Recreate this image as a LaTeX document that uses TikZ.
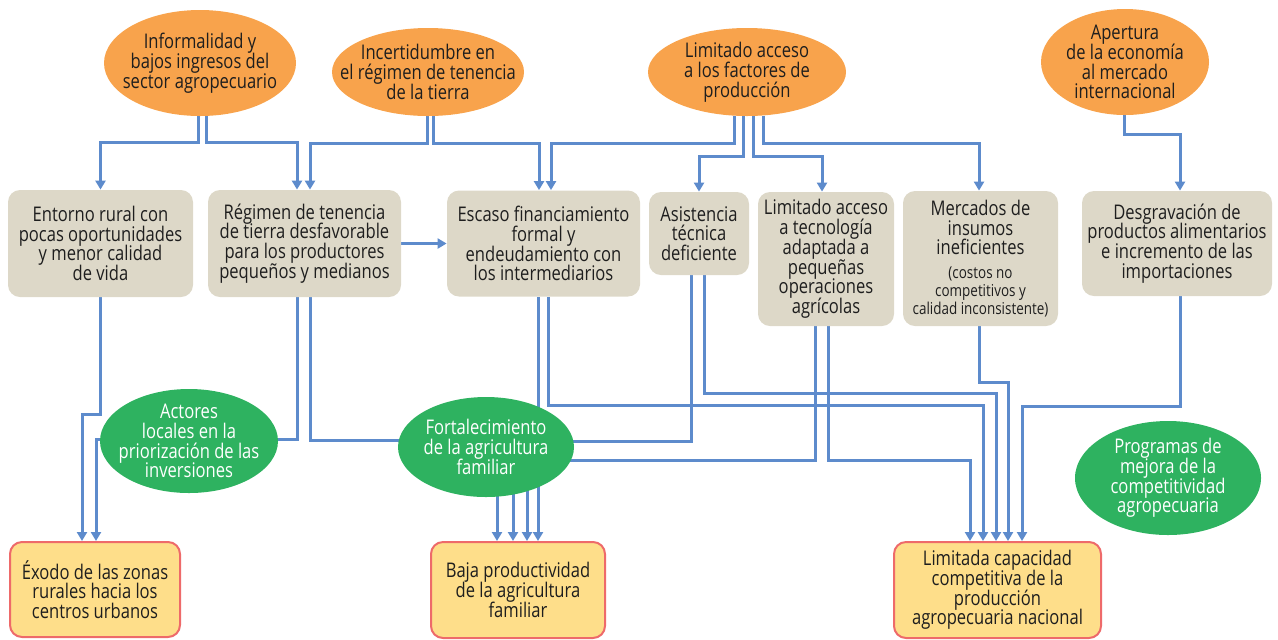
\documentclass[tikz,border=0pt]{standalone}
\usepackage{fontspec}
\setmainfont[FakeStretch=0.82]{Open Sans}
\usetikzlibrary{shapes, arrows.meta, backgrounds}
\definecolor{naranja}{RGB}{248,163,76}
\definecolor{gris}{RGB}{221,216,200}
\definecolor{verde}{RGB}{46,178,96}
\definecolor{amarillo}{RGB}{254,222,138}
\definecolor{rojo}{RGB}{238,106,106}
\definecolor{azul}{RGB}{93,139,204}
\definecolor{tinta}{RGB}{30,30,30}
\newcommand{\letradiag}{\fontsize{10.1}{9.9}\selectfont\lineskiplimit=-4pt\relax}
\newcommand{\letranota}{\fontsize{8.2}{8}\selectfont}
\tikzstyle{texto} = [align=center, text=tinta, font=\letradiag, inner sep=0pt]
\tikzstyle{causa} = [ellipse, fill=naranja, inner sep=0pt]
\tikzstyle{medida} = [ellipse, fill=verde, inner sep=0pt]
\tikzstyle{problema} = [texto, rectangle, rounded corners=6pt, fill=gris]
\tikzstyle{efecto} = [texto, rectangle, rounded corners=6pt, fill=amarillo, draw=rojo, line width=1pt]
\tikzstyle{linea} = [draw=azul, line width=1.5pt]
\tikzstyle{flecha} = [linea, -{Triangle[length=4.5pt,width=5pt]}]

\begin{document}
\begin{tikzpicture}[x=0.5pt, y=-0.5pt]
	\useasboundingbox (0,0) rectangle (1278,639);
	% causas
	\node[causa, minimum width=96pt, minimum height=53pt, label={[texto]center:{Informalidad y\\bajos ingresos del\\sector agropecuario}}] (e1) at (200,63) {};
	\node[causa, minimum width=96pt, minimum height=44pt, label={[texto]center:{Incertidumbre en\\el régimen de tenencia\\de la tierra}}] (e2) at (428,72) {};
	\node[causa, minimum width=99pt, minimum height=44pt, label={[texto]center:{Limitado acceso\\a los factores de\\producción}}] (e3) at (747,72) {};
	\node[causa, minimum width=84pt, minimum height=53pt, label={[texto]center:{Apertura\\de la economía\\al mercado\\internacional}}] (e4) at (1125,62) {};
	% problemas
	\node[problema, minimum width=92.5pt, minimum height=53.5pt] (b1) at (100.5,243.5) {Entorno rural con\\pocas oportunidades\\y menor calidad\\de vida};
	\node[problema, minimum width=96.5pt, minimum height=53.5pt] (b2) at (304.5,243.5) {Régimen de tenencia\\de tierra desfavorable\\para los productores\\pequeños y medianos};
	\node[problema, minimum width=96.5pt, minimum height=53pt] (b3) at (543.5,243.5) {Escaso financiamiento\\formal y\\endeudamiento con\\los intermediarios};
	\node[problema, minimum width=50pt, minimum height=41.5pt] (b4) at (699,233.5) {Asistencia\\técnica\\deficiente};
	\node[problema, minimum width=68pt, minimum height=67pt] (b5) at (826,259) {Limitado acceso\\a tecnología\\adaptada a\\pequeñas\\operaciones\\agrícolas};
	\node[problema, minimum width=77.5pt, minimum height=67.5pt] (b6) at (980.5,258.5) {Mercados de\\insumos\\ineficientes\\[2pt]{\letranota (costos no}\\[-1pt]{\letranota competitivos y}\\[-1pt]{\letranota calidad inconsistente)}};
	\node[problema, minimum width=95pt, minimum height=52.5pt] (b7) at (1177,243.5) {Desgravación de\\productos alimentarios\\e incremento de las\\importaciones};
	% medidas
	\node[medida, minimum width=89pt, minimum height=52pt, label={[texto, text=white]center:{Actores\\locales en la\\priorización de las\\inversiones}}] (g1) at (189,441) {};
	\node[medida, minimum width=88pt, minimum height=50pt, label={[texto, text=white]center:{Fortalecimiento\\de la agricultura\\familiar}}] (g2) at (486,447) {};
	\node[medida, minimum width=93pt, minimum height=57pt, label={[texto, text=white]center:{Programas de\\mejora de la\\competitividad\\agropecuaria}}] (g3) at (1168,478) {};
	% efectos
	\node[efecto, minimum width=85pt, minimum height=47.5pt] (r1) at (95,589.5) {Éxodo de las zonas\\rurales hacia los\\centros urbanos};
	\node[efecto, minimum width=87pt, minimum height=48pt] (r2) at (518,590) {Baja productividad\\de la agricultura\\familiar};
	\node[efecto, minimum width=103.5pt, minimum height=48pt] (r3) at (997.5,590) {Limitada capacidad\\competitiva de la\\producción\\agropecuaria nacional};

	\begin{scope}[on background layer]
		% causas a problemas
		\draw[flecha] ([xshift=-1pt]e1.south) -- ++(0,26) -| (b1.north);
		\draw[flecha] ([xshift=3pt]e1.south) -- ++(0,26) -| ([xshift=-3.75pt]b2.north);
		\draw[flecha] ([xshift=-0.5pt]e2.south) -- ++(0,27) -| ([xshift=2.75pt]b2.north);
		\draw[flecha] ([xshift=2.5pt]e2.south) -- ++(0,27) -| ([xshift=-2.25pt]b3.north);
		\draw[flecha] ([xshift=-6.5pt]e3.south) -- ++(0,27) -| ([xshift=3.75pt]b3.north);
		\draw[flecha] ([xshift=-2pt]e3.south) -- ++(0,40) -| (b4.north);
		\draw[flecha] ([xshift=3pt]e3.south) -- ++(0,40) -| ([xshift=-2pt]b5.north);
		\draw[flecha] ([xshift=8pt]e3.south) -- ++(0,27) -| ([xshift=-0.75pt]b6.north);
		\draw[flecha] ([xshift=-0.5pt]e4.south) -- ++(0,19) -| ([xshift=1.5pt]b7.north);
		\draw[flecha] (b2.east) -- (b3.west);
		% problemas a efectos
		\draw[flecha] (b1.south) -- ++(0,117) -| ([xshift=-6.5pt]r1.north);
		\draw[flecha] ([xshift=-3.75pt]b2.south) -- ++(0,142) -| ([xshift=0.5pt]r1.north);
		\draw[flecha] ([xshift=2.75pt]b2.south) -- ++(0,143) -| ([xshift=-10.5pt]r2.north);
		\draw[flecha] ([xshift=-2.75pt]b3.south) -- ([xshift=10pt]r2.north);
		\draw[flecha] ([xshift=2.25pt]b3.south) -- ++(0,109) -| ([xshift=-7.25pt]r3.north);
		\draw[flecha] ([xshift=-4pt]b4.south) -- ++(0,166) -| ([xshift=4.5pt]r2.north);
		\draw[flecha] ([xshift=2.5pt]b4.south) -- ++(0,118) -| ([xshift=-0.75pt]r3.north);
		\draw[flecha] ([xshift=-5.5pt]b5.south) -- ++(0,134) -| ([xshift=-2.5pt]r2.north);
		\draw[flecha] ([xshift=1pt]b5.south) -- ++(0,134) -| ([xshift=-13.75pt]r3.north);
		\draw[flecha] ([xshift=-0.75pt]b6.south) -- ++(0,56) -| ([xshift=5.25pt]r3.north);
		\draw[flecha] ([xshift=1.5pt]b7.south) -- ++(0,110) -| ([xshift=12.25pt]r3.north);
	\end{scope}
\end{tikzpicture}
\end{document}
